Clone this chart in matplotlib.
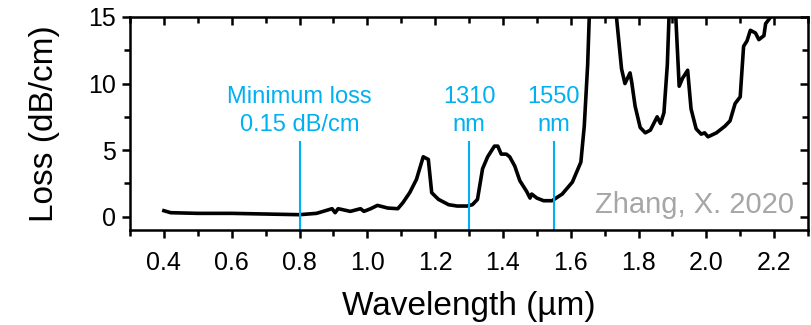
import numpy as np
import matplotlib.pyplot as plt
from matplotlib.ticker import MultipleLocator

plt.rcParams['font.family'] = ['Liberation Sans', 'DejaVu Sans']

# loss spectrum
wl = [0.40, 0.42, 0.50, 0.60, 0.70, 0.80, 0.85, 0.87, 0.896, 0.905, 0.914, 0.95, 0.98, 0.99,
      1.01, 1.03, 1.06, 1.09, 1.105, 1.125, 1.145, 1.165, 1.18, 1.19, 1.21, 1.24, 1.265, 1.295,
      1.31, 1.325, 1.34, 1.355, 1.375, 1.385, 1.395, 1.41, 1.42, 1.435, 1.45, 1.47, 1.48, 1.485,
      1.50, 1.52, 1.545, 1.575, 1.605, 1.63, 1.64, 1.65, 1.655, 1.66,
      1.73, 1.735, 1.75, 1.76, 1.775, 1.78, 1.79, 1.805, 1.82, 1.835, 1.855, 1.865, 1.875, 1.885, 1.89, 1.895,
      1.905, 1.91, 1.92, 1.93, 1.945, 1.955, 1.97, 1.985, 1.995, 2.005, 2.03, 2.055, 2.07, 2.085,
      2.10, 2.11, 2.12, 2.13, 2.145, 2.155, 2.17, 2.175, 2.19, 2.20]
loss = [0.45, 0.30, 0.25, 0.25, 0.20, 0.15, 0.25, 0.40, 0.60, 0.30, 0.60, 0.40, 0.60, 0.40,
        0.60, 0.85, 0.65, 0.60, 1.05, 1.80, 2.80, 4.50, 4.30, 1.80, 1.30, 0.90, 0.80, 0.80,
        0.90, 1.30, 3.60, 4.50, 5.30, 5.30, 4.70, 4.70, 4.50, 3.80, 2.70, 1.90, 1.40, 1.70,
        1.40, 1.20, 1.20, 1.70, 2.60, 4.10, 6.80, 11.4, 15.2, 17.0,
        17.0, 15.0, 11.1, 10.0, 10.8, 10.1, 8.30, 6.70, 6.30, 6.50, 7.50, 7.00, 7.80, 11.4, 15.0, 17.0,
        17.0, 15.0, 9.80, 10.4, 11.0, 8.10, 6.60, 6.20, 6.30, 6.00, 6.30, 6.80, 7.20, 8.50,
        9.00, 12.8, 13.2, 14.0, 13.8, 13.3, 13.6, 14.5, 15.0, 17.0]

marks = [0.8, 1.3, 1.55]
mark_labels = ['Minimum loss\n0.15 dB/cm', '1310\nnm', '1550\nnm']

blue = '#00b0f0'

fig = plt.figure(figsize=(8.11, 3.25), dpi=100)
ax = fig.add_axes([130/811, 1-230/325, 678/811, 213/325])

ax.plot(wl, loss, color='black', lw=2.6)

for x, t in zip(marks, mark_labels):
    ax.plot([x, x], [-1, 5.6], color=blue, lw=1.5)
    ax.text(x, 7.95, t, color=blue, ha='center', va='center', fontsize=17, linespacing=1.33)

ax.text(0.98, 0.117, 'Zhang, X. 2020', transform=ax.transAxes, ha='right', va='center',
        color='#a6a6a6', fontsize=21)

ax.set_xlim(0.3, 2.3)
ax.set_ylim(-1, 15)
ax.xaxis.set_major_locator(MultipleLocator(0.2))
ax.xaxis.set_minor_locator(MultipleLocator(0.1))
ax.yaxis.set_major_locator(MultipleLocator(5))
ax.yaxis.set_minor_locator(MultipleLocator(2.5))
ax.tick_params(which='both', direction='out', width=1.8, labelsize=18)
ax.tick_params(axis='x', pad=9)
ax.tick_params(axis='y', pad=4)
ax.tick_params(which='major', length=6)
ax.tick_params(which='minor', length=4)
for s in ax.spines.values():
    s.set_linewidth(1.8)

# mirrored ticks on top/right pointing inward
sec_x = ax.secondary_xaxis('top')
sec_x.xaxis.set_major_locator(MultipleLocator(0.2))
sec_x.xaxis.set_minor_locator(MultipleLocator(0.1))
sec_x.tick_params(which='both', direction='in', width=1.8, labeltop=False)
sec_x.tick_params(which='major', length=6)
sec_x.tick_params(which='minor', length=4)
sec_y = ax.secondary_yaxis('right')
sec_y.yaxis.set_major_locator(MultipleLocator(5))
sec_y.yaxis.set_minor_locator(MultipleLocator(2.5))
sec_y.tick_params(which='both', direction='in', width=1.8, labelright=False)
sec_y.tick_params(which='major', length=6)
sec_y.tick_params(which='minor', length=4)

ax.set_xlabel('Wavelength (µm)', fontsize=24, labelpad=12)
ax.set_ylabel('Loss (dB/cm)', fontsize=24, labelpad=20)

fig.savefig('out.png', dpi=100)
